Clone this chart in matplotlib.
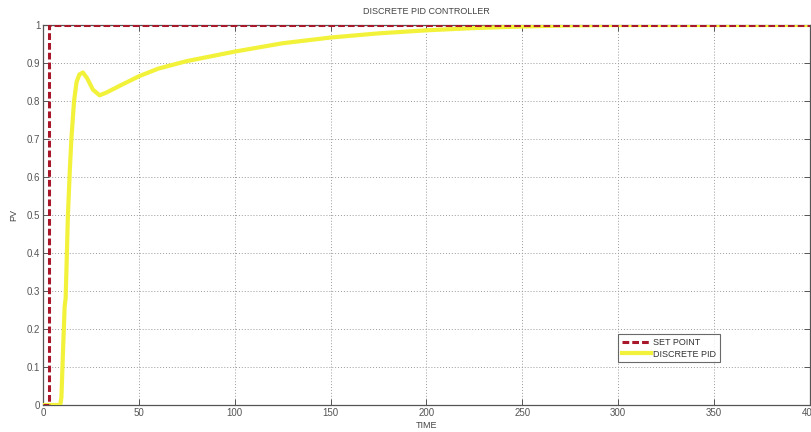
import matplotlib
matplotlib.use("Agg")
import matplotlib.pyplot as plt

# Data
sp_t = [0, 3, 3, 400]
sp_y = [0, 0, 1, 1]

pid_t = [0, 9, 9.6, 10.5, 11.3, 11.8, 12.2, 13, 14, 14.8, 16.2, 17.5, 19, 20.8,
         23, 26, 29.5, 33, 40, 50, 60, 75, 100, 125, 150, 175, 200, 225, 250,
         275, 300, 350, 400]
pid_y = [0, 0, 0.02, 0.15, 0.26, 0.28, 0.35, 0.5, 0.62, 0.7, 0.8, 0.85, 0.87,
         0.875, 0.86, 0.83, 0.815, 0.822, 0.84, 0.865, 0.885, 0.905, 0.93,
         0.952, 0.967, 0.978, 0.986, 0.992, 0.996, 0.999, 1.0, 1.0, 1.0]

x_ticks = [0, 50, 100, 150, 200, 250, 300, 350, 400]
y_ticks = [0, 0.1, 0.2, 0.3, 0.4, 0.5, 0.6, 0.7, 0.8, 0.9, 1]
y_tick_labels = ["0", "0.1", "0.2", "0.3", "0.4", "0.5", "0.6", "0.7", "0.8", "0.9", "1"]

plt.rcParams['font.family'] = ['Liberation Sans', 'DejaVu Sans']

fig = plt.figure(figsize=(8.12, 4.32), dpi=100)
ax = fig.add_axes([43 / 812, 1 - 405 / 432, (810 - 43) / 812, (405 - 25) / 432])

ax.plot(pid_t, pid_y, color="#f2f23a", lw=3.0, label="DISCRETE PID", zorder=3)
ax.plot(sp_t, sp_y, color="#a8182a", lw=2.2, ls=(0, (2.2, 1.0)), label="SET POINT", zorder=4)

ax.set_xlim(0, 400)
ax.set_ylim(0, 1)
ax.set_xticks(x_ticks)
ax.set_xticklabels([str(v) for v in x_ticks])
ax.set_yticks(y_ticks)
ax.set_yticklabels(y_tick_labels)
ax.grid(True, ls=(0, (1, 2)), color="#9a9a9a", lw=0.7)
ax.tick_params(direction="in", top=True, right=True, length=4, width=0.7,
               labelsize=7, colors="#555555", pad=2)
for s in ax.spines.values():
    s.set_color("#555555")
    s.set_linewidth(0.9)

ax.set_title("DISCRETE PID CONTROLLER", fontsize=6.5, color="#444444", pad=8)
ax.set_xlabel("TIME", fontsize=6.5, color="#444444", labelpad=2)
ax.set_ylabel("PV", fontsize=6.5, color="#444444", labelpad=6)

h, l = ax.get_legend_handles_labels()
leg = ax.legend(h[::-1], l[::-1], loc="upper left", bbox_to_anchor=(0.75, 0.186),
                fontsize=6.5, frameon=True, fancybox=False, handlelength=3.2,
                borderpad=0.4, labelspacing=0.3, handletextpad=0.3,
                borderaxespad=0)
leg.get_frame().set_edgecolor("#444444")
leg.get_frame().set_linewidth(0.8)
for t in leg.get_texts():
    t.set_color("#333333")

fig.savefig("out.png", dpi=100)
